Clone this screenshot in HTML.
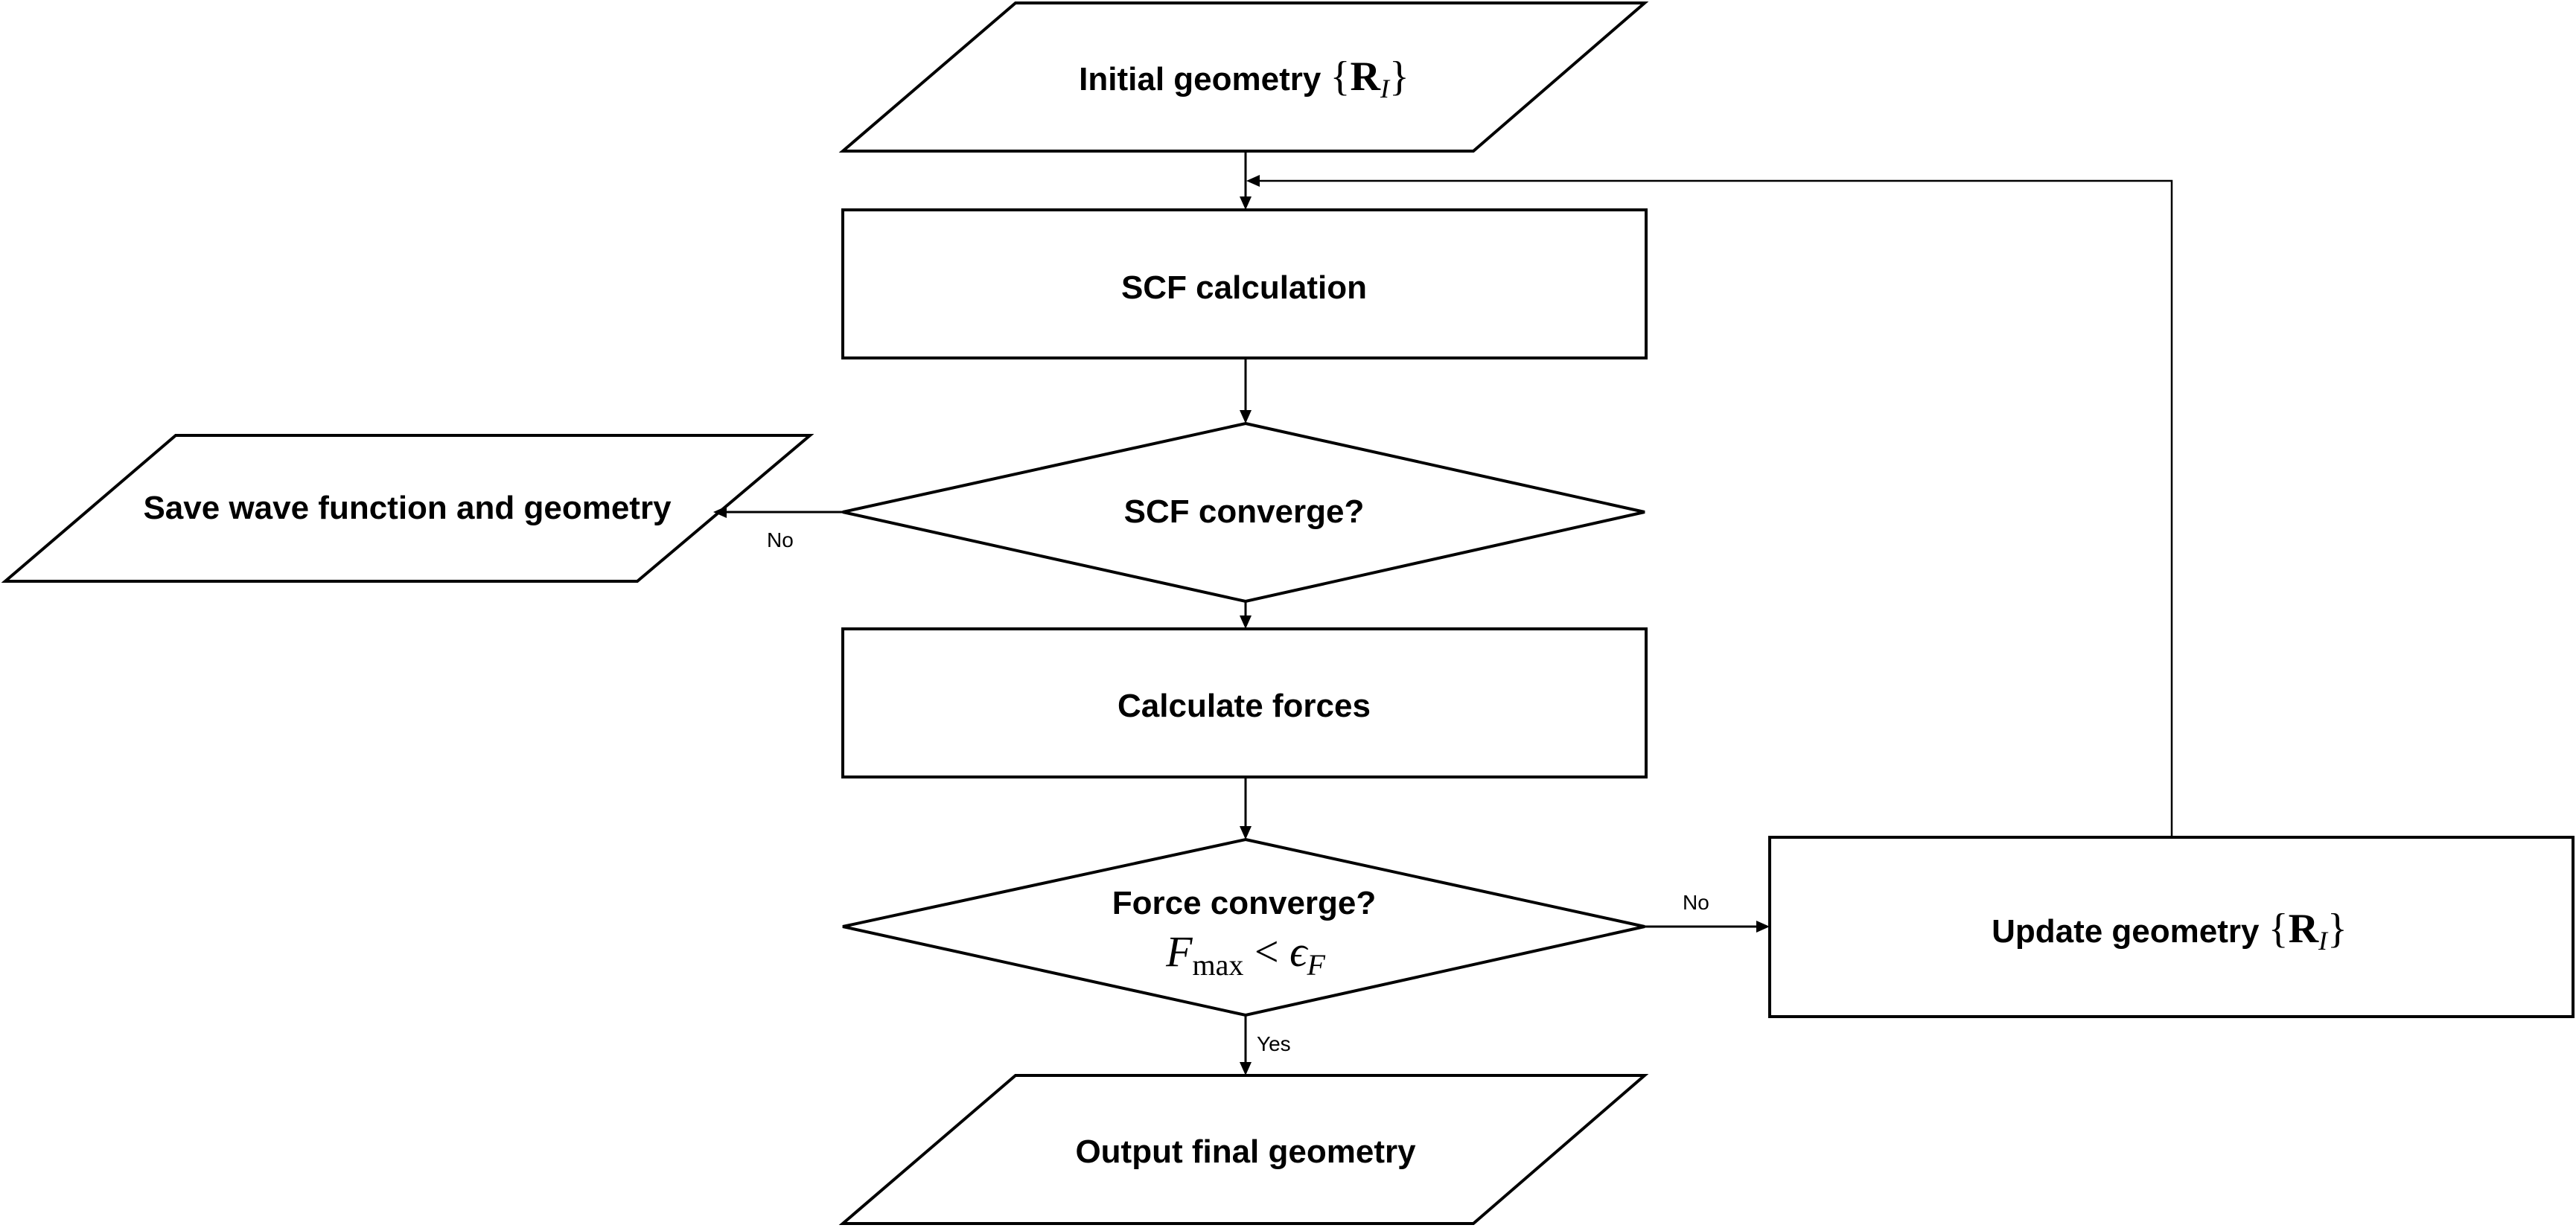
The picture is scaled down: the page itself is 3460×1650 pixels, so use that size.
<!DOCTYPE html>
<html><head><meta charset="utf-8"><style>
html,body{margin:0;padding:0;background:#fff;}
svg{display:block;}
.t{font-family:"Liberation Sans",sans-serif;font-weight:bold;font-size:44px;text-anchor:middle;}
.l{font-family:"Liberation Sans",sans-serif;font-size:28px;}
.m{font-family:"Liberation Serif",serif;}
</style></head><body>
<svg width="3460" height="1650" viewBox="0 0 3460 1650" xmlns="http://www.w3.org/2000/svg">
<g fill="none" stroke="#000" stroke-width="4">
<polygon points="1364,4 2209,4 1979,203 1132,203"/>
<rect x="1132" y="282" width="1079" height="199"/>
<polygon points="1673,569 2209,688 1673,808 1132,688"/>
<polygon points="236,585 1088,585 856,781 7,781"/>
<rect x="1132" y="845" width="1079" height="199"/>
<polygon points="1673,1128 2209,1245 1673,1364 1132,1245"/>
<rect x="2377" y="1125" width="1079" height="241"/>
<polygon points="1364,1445 2209,1445 1979,1644 1132,1644"/>
</g>
<g stroke="#000" stroke-width="3" fill="none">
<line x1="1673" y1="203" x2="1673" y2="266"/>
<line x1="1673" y1="481" x2="1673" y2="553"/>
<line x1="1673" y1="808" x2="1673" y2="829"/>
<line x1="1673" y1="1044" x2="1673" y2="1112"/>
<line x1="1673" y1="1364" x2="1673" y2="1429"/>
<line x1="1132" y1="688" x2="974" y2="688"/>
<line x1="2209" y1="1245" x2="2361" y2="1245"/>
<polyline points="2917,1125 2917,243 1690,243" stroke-width="2.5"/>
</g>
<g fill="#000">
<polygon points="1665,264 1681,264 1673,282"/>
<polygon points="1665,551 1681,551 1673,569"/>
<polygon points="1665,827 1681,827 1673,845"/>
<polygon points="1665,1110 1681,1110 1673,1128"/>
<polygon points="1665,1427 1681,1427 1673,1445"/>
<polygon points="976,680 976,696 958,688"/>
<polygon points="2359,1237 2359,1253 2377,1245"/>
<polygon points="1692,235 1692,251 1674,243"/>
</g>
<text class="t" x="1671" y="121">Initial geometry <tspan class="m" font-weight="normal" font-size="56">{</tspan><tspan class="m" font-size="56">R</tspan><tspan class="m" font-style="italic" font-weight="normal" font-size="36" dy="10">I</tspan><tspan class="m" font-weight="normal" font-size="56" dy="-10">}</tspan></text>
<text class="t" x="1671" y="401">SCF calculation</text>
<text class="t" x="1671" y="702">SCF converge?</text>
<text class="t" x="547" y="697">Save wave function and geometry</text>
<text class="t" x="1671" y="963">Calculate forces</text>
<text class="t" x="1671" y="1228">Force converge?</text>
<text class="m" x="1673" y="1298" font-size="58" text-anchor="middle"><tspan font-style="italic">F</tspan><tspan font-size="40" dy="12">max</tspan><tspan dy="-12"> &lt; </tspan><tspan font-style="italic">ϵ</tspan><tspan font-style="italic" font-size="40" dy="12">F</tspan></text>
<text class="t" x="2914" y="1266">Update geometry <tspan class="m" font-weight="normal" font-size="56">{</tspan><tspan class="m" font-size="56">R</tspan><tspan class="m" font-style="italic" font-weight="normal" font-size="36" dy="10">I</tspan><tspan class="m" font-weight="normal" font-size="56" dy="-10">}</tspan></text>
<text class="t" x="1673" y="1562">Output final geometry</text>
<text class="l" x="1030" y="735">No</text>
<text class="l" x="2260" y="1222">No</text>
<text class="l" x="1688" y="1412">Yes</text>
</svg>
</body></html>
